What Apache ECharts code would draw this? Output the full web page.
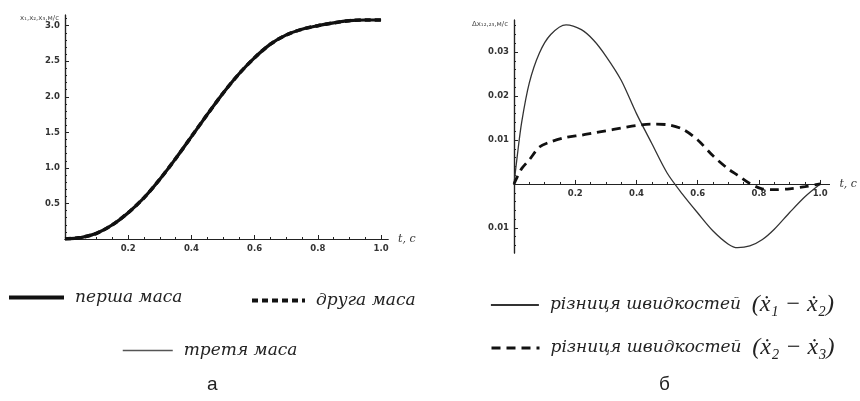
<!DOCTYPE html>
<html><head><meta charset="utf-8">
<script src="https://cdn.jsdelivr.net/npm/echarts@6/dist/echarts.min.js"></script>
<style>html,body{margin:0;padding:0;background:#fff}#c{width:860px;height:401px}</style>
</head><body><div id="c"></div>
<script>
// ---- data: panel а (positions / speeds of three masses) ----
const tA = [0, 0.05, 0.1, 0.15, 0.2, 0.25, 0.3, 0.35, 0.4, 0.45, 0.5, 0.55, 0.6, 0.65, 0.7, 0.75, 0.8, 0.85, 0.9, 0.95, 1.0];
const mass1 = [0, 0.02, 0.08, 0.2, 0.37, 0.58, 0.84, 1.13, 1.44, 1.75, 2.05, 2.32, 2.55, 2.74, 2.87, 2.95, 3.0, 3.04, 3.07, 3.08, 3.08];
const mass2 = [0, 0.02, 0.08, 0.2, 0.37, 0.58, 0.84, 1.13, 1.44, 1.75, 2.05, 2.32, 2.55, 2.74, 2.87, 2.95, 3.0, 3.04, 3.07, 3.08, 3.08];
const mass3 = [0, 0.015, 0.07, 0.19, 0.36, 0.57, 0.83, 1.12, 1.43, 1.74, 2.04, 2.31, 2.54, 2.73, 2.86, 2.95, 3.0, 3.04, 3.07, 3.08, 3.08];
// ---- data: panel б (speed differences) ----
const tB = [0, 0.01, 0.025, 0.05, 0.083, 0.12, 0.17, 0.22, 0.26, 0.3, 0.35, 0.4, 0.45, 0.5, 0.55, 0.6, 0.65, 0.7, 0.73, 0.77, 0.81, 0.85, 0.9, 0.95, 1.0];
const diff12 = [0, 0.006, 0.014, 0.023, 0.0298, 0.0340, 0.0362, 0.0351, 0.0327, 0.0291, 0.0236, 0.0160, 0.0092, 0.0025, -0.0023, -0.0066, -0.0107, -0.0137, -0.0145, -0.0141, -0.0127, -0.0103, -0.0065, -0.0029, 0];
const diff23 = [0, 0.0015, 0.0035, 0.0055, 0.0084, 0.0096, 0.0106, 0.0111, 0.0116, 0.0121, 0.0127, 0.0133, 0.0136, 0.0135, 0.0125, 0.0100, 0.0064, 0.0034, 0.0020, 0.0001, -0.0011, -0.0013, -0.0011, -0.0006, 0];
// ---- tick labels ----
const xMajor = [0.2, 0.4, 0.6, 0.8, 1.0];
const xLabels = ['0.2', '0.4', '0.6', '0.8', '1.0'];
const xMinor = [0.05, 0.1, 0.15, 0.25, 0.3, 0.35, 0.45, 0.5, 0.55, 0.65, 0.7, 0.75, 0.85, 0.9, 0.95];
const yAMajor = [0.5, 1.0, 1.5, 2.0, 2.5, 3.0];
const yALabels = ['0.5', '1.0', '1.5', '2.0', '2.5', '3.0'];
const yAMinor = [0.1, 0.2, 0.3, 0.4, 0.6, 0.7, 0.8, 0.9, 1.1, 1.2, 1.3, 1.4, 1.6, 1.7, 1.8, 1.9, 2.1, 2.2, 2.3, 2.4, 2.6, 2.7, 2.8, 2.9, 3.1];
const yBMajor = [-0.01, 0.01, 0.02, 0.03];
const yBLabels = ['0.01', '0.01', '0.02', '0.03'];
const yBMinor = [-0.014, -0.012, -0.008, -0.006, -0.004, -0.002, 0.002, 0.004, 0.006, 0.008, 0.012, 0.014, 0.016, 0.018, 0.022, 0.024, 0.026, 0.028, 0.032, 0.034, 0.036];
const names = ['перша маса', 'друга маса', 'третя маса', 'різниця швидкостей (ẋ₁ − ẋ₂)', 'різниця швидкостей (ẋ₂ − ẋ₃)'];

const pairs = (t, v) => t.map((x, i) => [x, v[i]]);
const lab = (major, labels) => v => { const i = major.findIndex(m => Math.abs(m - v) < 1e-9); return i < 0 ? '' : labels[i]; };
const axisCol = '#222';
const tickFont = { fontFamily: 'DejaVu Sans', fontSize: 8.5, color: '#333', fontWeight: 'bold' };

// right panel: y range and plot height; x axis sits where y = 0
const gridB = { top: 20, height: 233, yMin: -0.0157, yMax: 0.0373 };
const zeroOffsetB = -gridB.height * (0 - gridB.yMin) / (gridB.yMax - gridB.yMin);

function xAxes(grid, max, nameStr, offset) {
  return [{
    type: 'value', gridIndex: grid, min: 0, max: max, position: 'bottom', offset: offset,
    name: nameStr, nameLocation: 'end', nameGap: 10,
    nameTextStyle: { fontFamily: 'DejaVu Serif', fontStyle: 'italic', fontSize: 11, color: '#333', verticalAlign: 'middle' },
    axisLine: { onZero: false, lineStyle: { color: axisCol, width: 1.2 } },
    axisTick: { inside: true, length: 4, customValues: xMajor, lineStyle: { color: axisCol } },
    axisLabel: Object.assign({ customValues: xMajor, formatter: lab(xMajor, xLabels), margin: 5 }, tickFont),
    splitLine: { show: false }
  }, {
    type: 'value', gridIndex: grid, min: 0, max: max, position: 'bottom', offset: offset,
    axisLine: { onZero: false, lineStyle: { color: axisCol, width: 1.2 } },
    axisTick: { inside: true, length: 2, customValues: xMinor, lineStyle: { color: axisCol } },
    axisLabel: { show: false }, splitLine: { show: false }
  }];
}
function yAxes(grid, min, max, major, labels, minor, nameStr) {
  return [{
    type: 'value', gridIndex: grid, min: min, max: max, position: 'left',
    name: nameStr, nameLocation: 'end', nameGap: -4,
    nameTextStyle: { fontFamily: 'DejaVu Sans', fontSize: 7, color: '#444', align: 'right', verticalAlign: 'middle', padding: [0, 6, 0, 0] },
    axisLine: { onZero: false, lineStyle: { color: axisCol, width: 1.2 } },
    axisTick: { inside: true, length: 4, customValues: major, lineStyle: { color: axisCol } },
    axisLabel: Object.assign({ customValues: major, formatter: lab(major, labels), margin: 5 }, tickFont),
    splitLine: { show: false }
  }, {
    type: 'value', gridIndex: grid, min: min, max: max, position: 'left',
    axisLine: { onZero: false, lineStyle: { color: axisCol, width: 1.2 } },
    axisTick: { inside: true, length: 2, customValues: minor, lineStyle: { color: axisCol } },
    axisLabel: { show: false }, splitLine: { show: false }
  }];
}

const legTxt = { fontFamily: 'DejaVu Serif', fontStyle: 'italic', fontSize: 17, color: '#222', padding: [0, 0, 0, 6] };
const richB = {
  a: { fontFamily: 'DejaVu Serif', fontStyle: 'italic', fontSize: 17, color: '#222' },
  p: { fontFamily: 'Liberation Serif', fontSize: 24, color: '#222' },
  x: { fontFamily: 'Liberation Serif', fontStyle: 'italic', fontSize: 24, color: '#222' }
};
function legB(name) {
  const m = name.match(/^(.*) \((ẋ.)\s−\s(ẋ.)\)$/);
  return '{a|' + m[1] + '}  {p|(}{x|' + m[2] + '}{p| − }{x|' + m[3] + '}{p|)}';
}
function legend(name, left, top, w, lw, extra) {
  return Object.assign({
    data: [name], left: left, top: top, padding: 0, selectedMode: false,
    itemWidth: w, itemHeight: 16, textStyle: legTxt,
    itemStyle: { opacity: 0, borderWidth: 0 },
    lineStyle: { width: lw }
  }, extra || {});
}

const chart = echarts.init(document.getElementById('c'), null, { renderer: 'canvas' });
chart.setOption({
  animation: false,
  backgroundColor: '#fff',
  grid: [
    { left: 65, top: 15, width: 323, height: 224 },
    { left: 514, top: gridB.top, width: 324, height: gridB.height }
  ],
  xAxis: [...xAxes(0, 1.022, 't, c', 0), ...xAxes(1, 1.03, 't, c', zeroOffsetB)],
  yAxis: [
    ...yAxes(0, 0, 3.15, yAMajor, yALabels, yAMinor, 'x₁,x₂,x₃,м/с'),
    ...yAxes(1, gridB.yMin, gridB.yMax, yBMajor, yBLabels, yBMinor, 'Δx₁₂,₂₃,м/с')
  ],
  legend: [
    legend(names[0], 7, 289, 55, 4),
    legend(names[1], 250, 292, 53, 4),
    legend(names[2], 122, 342, 50, 1.5),
    legend(names[3], 490, 293, 48, 1.8, { itemHeight: 26, textStyle: Object.assign({}, legTxt, { rich: richB }), formatter: legB }),
    legend(names[4], 490, 336, 48, 3, { itemHeight: 26, textStyle: Object.assign({}, legTxt, { rich: richB }), formatter: legB })
  ],
  graphic: [
    { type: 'text', left: 207, top: 375, style: { text: 'а', fontFamily: 'Liberation Sans', fontSize: 19, fill: '#222' } },
    { type: 'text', left: 659, top: 375, style: { text: 'б', fontFamily: 'Liberation Sans', fontSize: 19, fill: '#222' } }
  ],
  series: [
    { name: names[2], type: 'line', xAxisIndex: 0, yAxisIndex: 0, data: pairs(tA, mass3), smooth: 0.3, symbol: 'none',
      color: '#555', lineStyle: { color: '#555', width: 1.3 }, z: 2 },
    { name: names[1], type: 'line', xAxisIndex: 0, yAxisIndex: 0, data: pairs(tA, mass2), smooth: 0.3, symbol: 'none',
      color: '#111', lineStyle: { color: '#111', width: 3.5, type: [6, 4] }, z: 3 },
    { name: names[0], type: 'line', xAxisIndex: 0, yAxisIndex: 0, data: pairs(tA, mass1), smooth: 0.3, symbol: 'none',
      color: '#111', lineStyle: { color: '#111', width: 3.2 }, z: 4 },
    { name: names[3], type: 'line', xAxisIndex: 2, yAxisIndex: 2, data: pairs(tB, diff12), smooth: 0.3, symbol: 'none',
      color: '#333', lineStyle: { color: '#333', width: 1.3 } },
    { name: names[4], type: 'line', xAxisIndex: 2, yAxisIndex: 2, data: pairs(tB, diff23), smooth: 0.3, symbol: 'none',
      color: '#111', lineStyle: { color: '#111', width: 2.8, type: [9, 6] } }
  ]
});
</script></body></html>
